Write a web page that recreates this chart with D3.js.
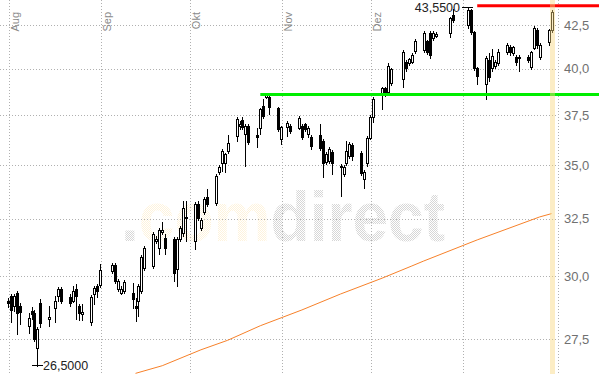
<!DOCTYPE html>
<html>
<head>
<meta charset="utf-8">
<script src="https://cdn.jsdelivr.net/npm/d3@7"></script>
<style>
  html, body { margin: 0; padding: 0; background: #fff; }
  svg { display: block; font-family: "Liberation Sans", Arial, sans-serif; }
</style>
</head>
<body>
<div id="chart"></div>
<script>
// Data (daily OHLC)
const dates = [
  "2011-08-01","2011-08-02","2011-08-03","2011-08-04","2011-08-05",
  "2011-08-08","2011-08-09","2011-08-10","2011-08-11","2011-08-12",
  "2011-08-15","2011-08-17","2011-08-18","2011-08-19",
  "2011-08-22","2011-08-23","2011-08-24","2011-08-25","2011-08-26",
  "2011-08-29","2011-08-30","2011-08-31","2011-09-01",
  "2011-09-05","2011-09-06","2011-09-07","2011-09-08","2011-09-09",
  "2011-09-12","2011-09-13","2011-09-14","2011-09-15","2011-09-16",
  "2011-09-19","2011-09-20","2011-09-21","2011-09-22","2011-09-23",
  "2011-09-26","2011-09-27","2011-09-28","2011-09-29","2011-09-30",
  "2011-10-03","2011-10-04","2011-10-05","2011-10-06","2011-10-07",
  "2011-10-10","2011-10-11","2011-10-12","2011-10-13","2011-10-14",
  "2011-10-17","2011-10-18","2011-10-19","2011-10-20","2011-10-21",
  "2011-10-24","2011-10-25","2011-10-26","2011-10-27","2011-10-28",
  "2011-10-31","2011-11-01","2011-11-03","2011-11-04",
  "2011-11-07","2011-11-08","2011-11-09","2011-11-10","2011-11-11",
  "2011-11-14","2011-11-15","2011-11-16","2011-11-17","2011-11-18",
  "2011-11-21","2011-11-22","2011-11-23","2011-11-24","2011-11-25",
  "2011-11-28","2011-11-29","2011-11-30","2011-12-01","2011-12-02",
  "2011-12-05","2011-12-06","2011-12-07","2011-12-08",
  "2011-12-12","2011-12-13","2011-12-14","2011-12-15","2011-12-16",
  "2011-12-19","2011-12-20","2011-12-21","2011-12-22","2011-12-23",
  "2011-12-28","2011-12-29",
  "2012-01-03","2012-01-04","2012-01-05","2012-01-06",
  "2012-01-09","2012-01-10","2012-01-11","2012-01-12","2012-01-13",
  "2012-01-16","2012-01-17","2012-01-18","2012-01-19","2012-01-20",
  "2012-01-23","2012-01-24","2012-01-25","2012-01-26","2012-01-27",
  "2012-01-30","2012-01-31"
]
const open = [
  28.98,29.19,28.79,29.31,28.79, 28.01,28.59,28.51,27.17,28.91,
  28.28,28.71,29.19,29.47, 29.15,28.99,29.47,28.79,28.47,
  28.16,29.27,29.60,29.64, 30.22,30.47,29.47,29.31,29.39,
  29.31,28.79,28.99,29.39,30.35, 30.43,31.50,31.20,31.90,31.63,
  31.59,30.30,31.59,31.85,32.57, 31.50,33.15,32.08,32.79,33.47,
  33.20,34.66,35.10,35.10,35.68, 36.43,36.94,37.24,36.53,36.94,
  36.48,36.84,37.98,38.45,38.45, 37.88,36.28,36.89,36.94,
  36.84,36.94,37.04,36.53,36.38, 36.48,36.18,35.15,35.19,35.63,
  34.90,34.56,35.10,35.44,35.98, 35.58,34.33,35.10,36.33,37.40,
  38.56,38.93,38.72,39.20, 39.43,40.38,40.32,40.38,41.00,
  41.06,41.54,42.04,41.75,41.87, 42.04,43.09,
  42.50,43.39,42.09,40.04, 39.16,40.49,40.04,40.16,40.32,
  40.95,41.22,40.90,40.67,40.67, 40.67,40.09,41.17,42.21,40.67,
  41.52,42.21
]
const high = [
  29.10,29.27,29.27,29.39,28.91, 28.51,28.75,28.63,27.97,29.07,
  28.79,29.19,29.56,29.56, 29.27,29.60,29.68,28.87,28.87,
  29.23,29.60,29.68,30.51, 30.56,30.56,29.88,29.60,29.84,
  29.72,29.11,29.68,30.90,31.29, 31.90,31.72,32.08,32.34,31.81,
  31.68,31.68,32.17,33.29,33.29, 33.24,33.29,32.52,33.47,33.85,
  34.56,35.00,35.80,35.60,36.48, 37.40,37.20,37.40,37.04,37.04,
  36.84,37.90,38.35,38.62,38.60, 37.95,36.94,37.19,37.04,
  37.45,37.04,37.09,36.94,36.48, 37.04,36.28,35.63,35.88,35.73,
  35.05,35.00,36.18,36.13,36.08, 35.68,34.75,36.43,37.50,38.45,
  39.00,39.00,40.30,40.05, 41.06,40.50,40.60,40.90,41.70,
  42.15,41.65,42.15,42.15,42.10, 43.00,43.45,
  43.55,43.45,42.15,40.10, 40.70,40.90,41.10,40.50,41.10,
  41.45,41.34,41.30,40.78,40.78, 40.78,41.00,42.45,42.33,41.45,
  42.27,43.39
]
const low = [
  28.75,28.16,28.59,27.70,28.09, 27.73,28.28,27.43,26.50,27.97,
  28.01,28.16,28.99,28.91, 28.79,28.95,28.28,28.24,28.24,
  28.05,28.87,29.15,29.56, 30.14,29.72,29.39,29.27,29.31,
  28.71,28.20,28.40,29.31,30.26, 30.35,31.40,30.95,31.81,30.95,
  29.80,29.60,31.50,31.72,31.50, 31.16,32.43,31.99,32.70,33.06,
  33.10,34.56,34.71,34.66,35.60, 36.18,36.80,36.80,34.95,36.03,
  35.88,36.53,37.35,38.42,37.56, 36.70,36.03,36.43,36.58,
  36.79,36.28,36.70,36.38,35.78, 35.73,34.42,35.05,35.10,34.56,
  33.53,34.47,35.00,35.34,35.24, 34.52,33.90,34.95,36.28,37.14,
  37.82,38.50,38.60,39.10, 38.98,39.90,40.20,40.30,40.90,
  40.95,40.85,40.60,41.60,41.80, 41.80,42.70,
  42.30,41.98,39.95,39.16, 38.35,39.30,39.90,40.04,40.20,
  40.85,40.78,40.78,40.21,39.86, 40.38,40.00,41.10,41.17,40.55,
  41.34,42.10
]
const close = [
  28.92,28.63,29.19,28.51,28.55, 28.32,28.47,27.51,27.89,28.12,
  28.36,28.99,29.47,28.99, 28.91,29.39,29.19,28.51,28.55,
  29.15,29.51,29.39,30.26, 30.47,29.80,29.80,29.47,29.76,
  29.07,28.71,29.60,30.82,31.20, 31.81,31.59,31.99,31.99,31.20,
  30.14,31.59,32.08,32.97,32.52, 33.15,32.52,32.43,33.38,33.15,
  34.47,34.90,35.68,35.54,36.08, 37.29,37.04,36.89,36.94,36.13,
  36.38,37.82,37.45,38.58,37.93, 36.79,36.89,37.09,36.68,
  37.35,36.38,36.79,36.84,35.93, 35.83,35.10,35.54,35.78,35.10,
  34.95,34.90,35.68,36.03,35.44, 34.61,34.66,36.33,37.40,38.35,
  38.93,38.61,40.16,39.96, 40.95,40.04,40.55,40.78,41.54,
  42.04,40.95,40.78,42.04,41.98, 42.91,42.80,
  43.39,42.09,40.04,39.59, 40.60,39.54,40.72,40.38,40.95,
  41.34,40.95,41.22,40.38,40.61, 40.49,40.95,42.33,41.34,41.34,
  42.21,43.27
]

// moving average (orange line)
const maDates = ["2011-09-13","2011-09-22","2011-10-05","2011-10-14","2011-10-25","2011-11-08",
  "2011-11-21","2011-12-05","2011-12-15","2011-12-19","2012-01-06","2012-01-27","2012-01-31"]
const maValues = [26.22,26.50,27.09,27.45,28.01,28.63,29.27,29.92,30.43,30.64,31.55,32.57,32.72]

// support / resistance lines
const supportValue = 38.6, supportFrom = "2011-10-25"
const resistValue = 43.65, resistFrom = "2012-01-06"

const yTicks = [27.5, 30, 32.5, 35, 37.5, 40, 42.5]
const monthTicks = ["2011-08-01","2011-09-01","2011-10-01","2011-11-01","2011-12-01","2012-01-01"]
const monthLabels = ["Aug","Sep","Okt","Nov","Dez"]
const watermark = [".", "com", "direct"]

// Dimensions
const width = 599, height = 374
const parse = d3.utcParse("%Y-%m-%d")
const de = d3.formatLocale({decimal: ",", thousands: ".", grouping: [3], currency: ["", " €"]})

const rows = dates.map((d, i) => ({date: parse(d), o: open[i], h: high[i], l: low[i], c: close[i]}))

const x = d3.scaleUtc()
  .domain([parse("2011-08-01"), parse("2012-01-31")])
  .range([7.75, 551.5])
const y = d3.scaleLog()
  .domain([26.197, 44.0])
  .range([height, 0])

const svg = d3.select("#chart")
  .append("svg")
  .attr("width", width)
  .attr("height", height)

// dotted pattern for the watermark
const defs = svg.append("defs")
function checker(id, color) {
  const p = defs.append("pattern").attr("id", id)
    .attr("patternUnits", "userSpaceOnUse").attr("width", 2).attr("height", 2)
  p.append("rect").attr("x", 0).attr("y", 0).attr("width", 1).attr("height", 1).attr("fill", color)
  p.append("rect").attr("x", 1).attr("y", 1).attr("width", 1).attr("height", 1).attr("fill", color)
}
checker("dotGray", "#d6d6d6")
checker("dotYellow", "#fef3dc")
defs.append("clipPath").attr("id", "plot")
  .append("rect").attr("width", 559).attr("height", height)

// watermark
const wm = svg.append("text")
  .attr("x", 121).attr("y", 241)
  .attr("font-size", 70).attr("font-weight", "bold")
  .attr("textLength", 324).attr("lengthAdjust", "spacingAndGlyphs")
wm.selectAll("tspan").data(watermark).join("tspan")
  .attr("fill", (d, i) => i === 1 ? "url(#dotYellow)" : "url(#dotGray)")
  .text(d => d)

// grid
const grid = svg.append("g")
  .attr("stroke", "#b0b0b0")
  .attr("stroke-dasharray", "1,2")
grid.selectAll(".h").data(yTicks).join("line")
  .attr("x1", 0).attr("x2", 558)
  .attr("y1", d => Math.round(y(d)) + 0.5).attr("y2", d => Math.round(y(d)) + 0.5)
grid.selectAll(".v").data(monthTicks).join("line")
  .attr("x1", d => Math.round(x(parse(d)) + 1) + 0.5).attr("x2", d => Math.round(x(parse(d)) + 1) + 0.5)
  .attr("y1", 0).attr("y2", height)
grid.append("line").attr("x1", 558.5).attr("x2", 558.5).attr("y1", 0).attr("y2", height)

// month labels
svg.append("g")
  .selectAll("text")
  .data(monthLabels)
  .join("text")
  .attr("transform", (d, i) => `translate(${Math.round(x(parse(monthTicks[i])) + 1) + 10},12) rotate(-90)`)
  .attr("text-anchor", "end")
  .attr("font-size", 11)
  .attr("fill", "#8a8a8a")
  .text(d => d)

// y axis labels
svg.append("g")
  .attr("transform", "translate(564,0)")
  .call(d3.axisRight(y).tickValues(yTicks).tickFormat(de.format(".1f")).tickSize(0).tickPadding(0))
  .call(g => g.select(".domain").remove())
  .attr("font-family", null)
  .attr("font-size", 13)
  .selectAll("text").attr("fill", "#707070")

// moving average
svg.append("path")
  .datum(maDates.map((d, i) => [parse(d), maValues[i]]))
  .attr("clip-path", "url(#plot)")
  .attr("fill", "none")
  .attr("stroke", "#f7812a")
  .attr("stroke-width", 1)
  .attr("d", d3.line().x(d => x(d[0])).y(d => y(d[1])))

// candles
const px = d => Math.round(x(d.date))
const cg = svg.append("g")
  .selectAll("g")
  .data(rows)
  .join("g")
cg.append("line")
  .attr("x1", d => px(d) + 0.5).attr("x2", d => px(d) + 0.5)
  .attr("y1", d => Math.round(y(d.h))).attr("y2", d => Math.round(y(d.l)) + 1)
  .attr("stroke", "#000")
cg.append("rect")
  .attr("x", d => px(d) - 0.5)
  .attr("width", 2)
  .attr("y", d => Math.round(y(Math.max(d.o, d.c))) + 0.5)
  .attr("height", d => Math.max(1, Math.round(y(Math.min(d.o, d.c))) - Math.round(y(Math.max(d.o, d.c)))))
  .attr("fill", d => d.c >= d.o ? "#fff" : "#000")
  .attr("stroke", "#000")

// support and resistance
svg.append("line")
  .attr("x1", x(parse(supportFrom))).attr("x2", width)
  .attr("y1", y(supportValue)).attr("y2", y(supportValue))
  .attr("stroke", "#00ee00").attr("stroke-width", 3)
svg.append("line")
  .attr("x1", x(parse(resistFrom))).attr("x2", width)
  .attr("y1", y(resistValue)).attr("y2", y(resistValue))
  .attr("stroke", "#ff0000").attr("stroke-width", 3)

// highlight of the last day
const last = rows[rows.length - 1]
svg.append("rect")
  .attr("x", px(last) - 2).attr("width", 5)
  .attr("y", 0).attr("height", height)
  .attr("fill", "#f8d77e")
  .attr("fill-opacity", 0.45)

// high / low annotations
const hi = rows[d3.maxIndex(rows, d => d.h)]
const lo = rows[d3.minIndex(rows, d => d.l)]
const fmt4 = de.format(".4f")
const ann = svg.append("g").attr("font-size", 12.5).attr("fill", "#222")
const hy = Math.round(y(hi.h)) + 0.5
ann.append("line").attr("x1", px(hi) - 6).attr("x2", px(hi) + 5).attr("y1", hy).attr("y2", hy).attr("stroke", "#000")
ann.append("text").attr("x", px(hi) - 8).attr("y", hy + 4.5).attr("text-anchor", "end").text(fmt4(hi.h))
const ly = Math.round(y(lo.l)) - 0.5
ann.append("line").attr("x1", px(lo) - 5).attr("x2", px(lo) + 6).attr("y1", ly).attr("y2", ly).attr("stroke", "#000")
ann.append("text").attr("x", px(lo) + 6).attr("y", ly + 4.5).text(fmt4(lo.l))
</script>
</body>
</html>
